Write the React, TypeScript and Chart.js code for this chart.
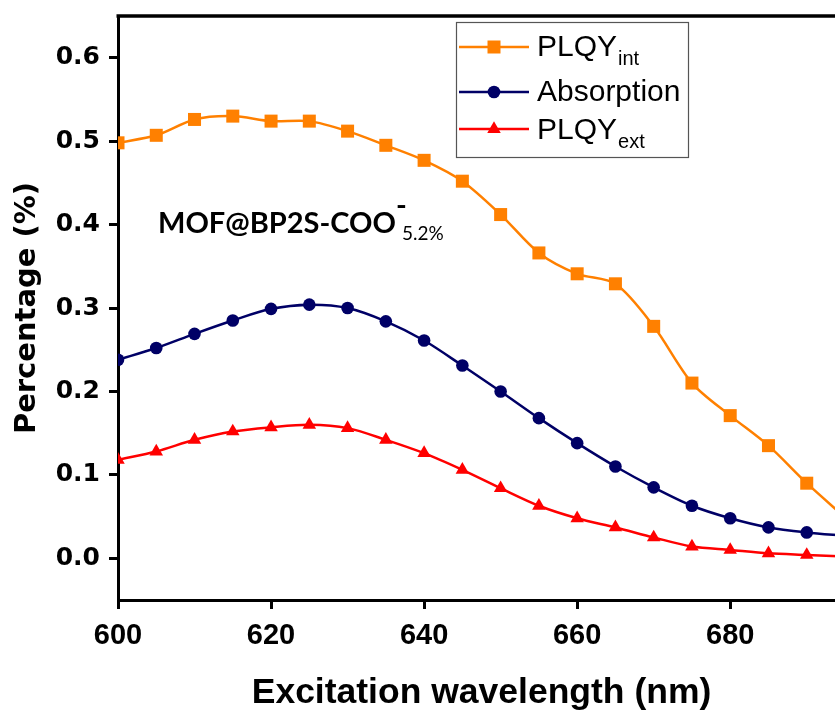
import React, { useEffect, useRef } from 'react';
import { Chart, registerables } from 'chart.js';

Chart.register(...registerables);

const wavelengths = [600, 605, 610, 615, 620, 625, 630, 635, 640, 645, 650, 655, 660, 665, 670, 675, 680, 685, 690, 695];
const plqyInt = [0.498, 0.507, 0.526, 0.530, 0.524, 0.524, 0.512, 0.495, 0.477, 0.452, 0.412, 0.366, 0.341, 0.329, 0.278, 0.210, 0.171, 0.135, 0.090, 0.049];
const absorption = [0.238, 0.252, 0.269, 0.285, 0.299, 0.304, 0.300, 0.284, 0.261, 0.231, 0.200, 0.168, 0.138, 0.110, 0.085, 0.063, 0.048, 0.037, 0.031, 0.027];
const plqyExt = [0.118, 0.128, 0.142, 0.152, 0.157, 0.160, 0.156, 0.142, 0.126, 0.106, 0.084, 0.063, 0.048, 0.037, 0.025, 0.014, 0.010, 0.006, 0.004, 0.002];
const xTicks = [600, 620, 640, 660, 680];
const yTicks = [0, 0.1, 0.2, 0.3, 0.4, 0.5, 0.6];
const legendMain = ['PLQY', 'Absorption', 'PLQY'];
const legendSub = ['int', '', 'ext'];
const annotationMain = 'MOF@BP2S-COO';
const annotationSup = '-';
const annotationSub = '5.2%';

const ORANGE = '#FF8000';
const NAVY = '#000066';
const RED = '#FF0000';

function drawMarker(ctx: CanvasRenderingContext2D, kind: string, x: number, y: number, color: string) {
  ctx.fillStyle = color;
  ctx.beginPath();
  if (kind === 'rect') {
    ctx.rect(x - 6.5, y - 6.5, 13, 13);
  } else if (kind === 'circle') {
    ctx.arc(x, y, 6.3, 0, Math.PI * 2);
  } else {
    const r = 7.8;
    ctx.moveTo(x, y - r);
    ctx.lineTo(x + r * Math.sin((2 * Math.PI) / 3), y + r / 2);
    ctx.lineTo(x - r * Math.sin((2 * Math.PI) / 3), y + r / 2);
    ctx.closePath();
  }
  ctx.fill();
}

const overlayPlugin = {
  id: 'overlay',
  afterDraw(chart: any) {
    const { ctx, chartArea } = chart;
    ctx.save();
    // top frame line
    ctx.strokeStyle = '#000';
    ctx.lineWidth = 3.5;
    ctx.beginPath();
    ctx.moveTo(chartArea.left - 1.5, chartArea.top);
    ctx.lineTo(chart.width, chartArea.top);
    ctx.stroke();

    // legend box
    ctx.fillStyle = '#fff';
    ctx.fillRect(456, 22, 232, 135);
    ctx.strokeStyle = '#555';
    ctx.lineWidth = 1.2;
    ctx.strokeRect(456.5, 22.5, 232, 135);

    const rows = [
      { y: 47, base: 56, subBase: 65, color: ORANGE, kind: 'rect' },
      { y: 92, base: 101, subBase: 101, color: NAVY, kind: 'circle' },
      { y: 129, base: 139, subBase: 148, color: RED, kind: 'triangle' },
    ];
    rows.forEach((r, i) => {
      ctx.strokeStyle = r.color;
      ctx.lineWidth = 2.5;
      ctx.beginPath();
      ctx.moveTo(459, r.y);
      ctx.lineTo(529, r.y);
      ctx.stroke();
      drawMarker(ctx, r.kind, 494, r.y, r.color);
      ctx.fillStyle = '#000';
      ctx.textAlign = 'left';
      ctx.textBaseline = 'alphabetic';
      ctx.font = '30px "Liberation Sans", Arial, sans-serif';
      ctx.fillText(legendMain[i], 537, r.base);
      const w = ctx.measureText(legendMain[i]).width;
      if (legendSub[i]) {
        ctx.font = '20px "Liberation Sans", Arial, sans-serif';
        ctx.fillText(legendSub[i], 537 + w + 1, r.subBase);
      }
    });

    // annotation
    ctx.fillStyle = '#000';
    ctx.font = 'bold 29px Lato, "Open Sans", sans-serif';
    ctx.fillText(annotationMain, 158, 233);
    const aw = ctx.measureText(annotationMain).width;
    ctx.fillText(annotationSup, 158 + aw + 0, 215);
    ctx.font = '19px Lato, "Open Sans", sans-serif';
    ctx.fillText(annotationSub, 158 + aw + 6, 240);
    ctx.restore();
  },
};

export default function App() {
  const canvasRef = useRef<HTMLCanvasElement | null>(null);

  useEffect(() => {
    if (!canvasRef.current) return;
    const chart = new Chart(canvasRef.current, {
      type: 'line',
      data: {
        labels: wavelengths,
        datasets: [
          {
            label: 'PLQY int',
            data: wavelengths.map((x, i) => ({ x, y: plqyInt[i] })),
            borderColor: ORANGE,
            backgroundColor: ORANGE,
            borderWidth: 2.5,
            pointStyle: 'rect',
            pointRadius: 9.2,
            pointBorderWidth: 0,
            tension: 0.3,
          },
          {
            label: 'Absorption',
            data: wavelengths.map((x, i) => ({ x, y: absorption[i] })),
            borderColor: NAVY,
            backgroundColor: NAVY,
            borderWidth: 2.5,
            pointStyle: 'circle',
            pointRadius: 6.3,
            pointBorderWidth: 0,
            tension: 0.3,
          },
          {
            label: 'PLQY ext',
            data: wavelengths.map((x, i) => ({ x, y: plqyExt[i] })),
            borderColor: RED,
            backgroundColor: RED,
            borderWidth: 2.5,
            pointStyle: 'triangle',
            pointRadius: 7.8,
            pointBorderWidth: 0,
            tension: 0.3,
          },
        ],
      },
      options: {
        animation: false,
        responsive: false,
        events: [],
        layout: { padding: { top: 16, right: 15, left: 0, bottom: 0 } },
        plugins: { legend: { display: false }, tooltip: { enabled: false } },
        scales: {
          x: {
            type: 'linear',
            min: 600,
            max: 695,
            afterBuildTicks: (s: any) => {
              s.ticks = xTicks.map((v) => ({ value: v }));
            },
            afterFit: (s: any) => {
              s.height = 110;
              s.paddingLeft = 0;
              s.paddingRight = 0;
            },
            grid: { display: true, drawOnChartArea: false, drawTicks: true, tickLength: 9, tickWidth: 3, color: '#000' },
            border: { display: true, color: '#000', width: 3 },
            ticks: {
              color: '#000',
              padding: 10,
              maxRotation: 0,
              autoSkip: false,
              font: { family: '"Liberation Sans", Arial, sans-serif', size: 29, weight: 'bold' },
            },
            title: {
              display: true,
              text: 'Excitation wavelength (nm)',
              color: '#000',
              font: { family: '"Liberation Sans", Arial, sans-serif', size: 35.5, weight: 'bold', lineHeight: 1 },
              padding: { top: 0, bottom: -1 },
            },
          },
          y: {
            type: 'linear',
            min: -0.05,
            max: 0.65,
            afterBuildTicks: (s: any) => {
              s.ticks = yTicks.map((v) => ({ value: v }));
            },
            afterFit: (s: any) => {
              s.width = 118;
              s.paddingTop = 0;
              s.paddingBottom = 0;
            },
            grid: { display: true, drawOnChartArea: false, drawTicks: true, tickLength: 9, tickWidth: 3, color: '#000' },
            border: { display: true, color: '#000', width: 3 },
            ticks: {
              color: '#000',
              padding: 9,
              callback: (v: any) => Number(v).toFixed(1),
              font: { family: '"DejaVu Sans", sans-serif', size: 25, weight: 'bold' },
            },
            title: {
              display: true,
              text: 'Percentage (%)',
              color: '#000',
              font: { family: '"DejaVu Sans", sans-serif', size: 29, weight: 'bold', lineHeight: 1 },
              padding: { top: 13, bottom: 0 },
            },
          },
        },
      },
      plugins: [overlayPlugin],
    } as any);
    return () => chart.destroy();
  }, []);

  return (
    <div style={{ position: 'absolute', left: 0, top: 0, width: 835, height: 710, overflow: 'hidden', background: '#fff' }}>
      <canvas ref={canvasRef} width={860} height={710} style={{ display: 'block' }} />
    </div>
  );
}
